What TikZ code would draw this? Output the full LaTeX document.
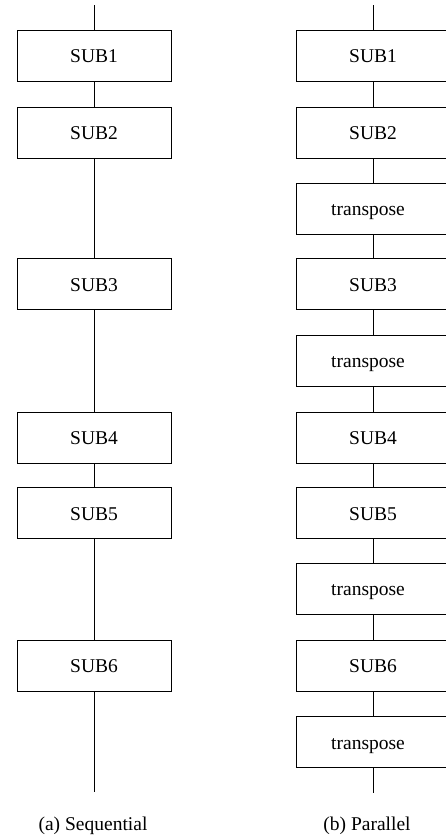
\documentclass[tikz,border=0pt]{standalone}
\usepackage{fontspec}
\setmainfont{Liberation Serif}
\begin{document}
\begin{tikzpicture}[x=1pt,y=-1pt,
  blk/.style={draw, line width=0.8pt, minimum width=154pt, minimum height=51pt, inner sep=0pt, text height=14pt, text depth=0pt, font=\fontsize{19.5}{22}\selectfont},
  lnk/.style={line width=0.8pt},
  captxt/.style={font=\fontsize{19.5}{22}\selectfont, inner sep=0pt}]
\useasboundingbox (0,0) rectangle (446,838);
% left column: sequential
\coordinate (ltop) at (94,5);
\node[blk] (l1) at (94,55.5) {SUB1};
\node[blk] (l2) at (94,132.5) {SUB2};
\node[blk] (l3) at (94,284) {SUB3};
\node[blk] (l4) at (94,437.5) {SUB4};
\node[blk] (l5) at (94,513) {SUB5};
\node[blk] (l6) at (94,665.5) {SUB6};
\coordinate (lbot) at (94,792);
\draw[lnk] (ltop) -- (l1) (l1) -- (l2) (l2) -- (l3) (l3) -- (l4) (l4) -- (l5) (l5) -- (l6) (l6) -- (lbot);
% right column: parallel
\coordinate (rtop) at (373,5);
\node[blk] (r1) at (373,55.5) {SUB1};
\node[blk] (r2) at (373,132.5) {SUB2};
\node[blk] (r3) at (373,208.5) {\hspace*{-10pt}transpose};
\node[blk] (r4) at (373,284) {SUB3};
\node[blk] (r5) at (373,360.5) {\hspace*{-10pt}transpose};
\node[blk] (r6) at (373,437.5) {SUB4};
\node[blk] (r7) at (373,513) {SUB5};
\node[blk] (r8) at (373,588.5) {\hspace*{-10pt}transpose};
\node[blk] (r9) at (373,665.5) {SUB6};
\node[blk] (r10) at (373,742) {\hspace*{-10pt}transpose};
\coordinate (rbot) at (373,793);
\draw[lnk] (rtop) -- (r1) (r1) -- (r2) (r2) -- (r3) (r3) -- (r4) (r4) -- (r5) (r5) -- (r6) (r6) -- (r7) (r7) -- (r8) (r8) -- (r9) (r9) -- (r10) (r10) -- (rbot);
% captions
\node[captxt] (capa) at (93,826) {(a) Sequential};
\node[captxt] (capb) at (367,826) {(b) Parallel};
\end{tikzpicture}
\end{document}
